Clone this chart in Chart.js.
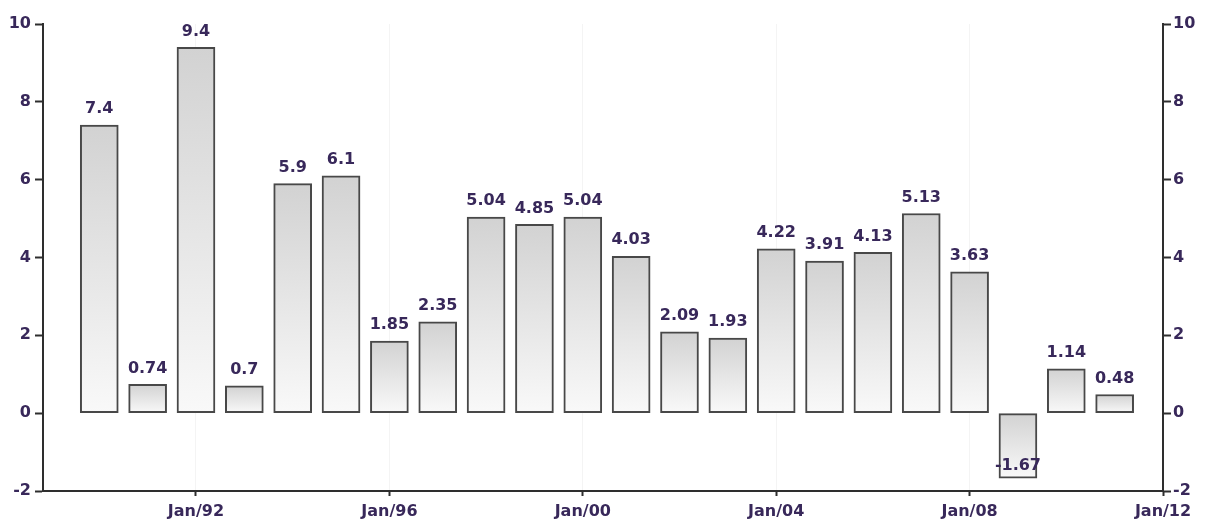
<!DOCTYPE html>
<html>
<head>
<meta charset="utf-8">
<script src="https://cdn.jsdelivr.net/npm/chart.js@4/dist/chart.umd.min.js"></script>
<style>
  html, body { margin: 0; padding: 0; background: #fff; }
  #wrap { width: 1206px; height: 526px; }
</style>
</head>
<body>
<div id="wrap"><canvas id="chart"></canvas></div>
<script>
// yearly values, bars centred on January of each year
const years = [1990, 1991, 1992, 1993, 1994, 1995, 1996, 1997, 1998, 1999, 2000,
               2001, 2002, 2003, 2004, 2005, 2006, 2007, 2008, 2009, 2010, 2011];
const values = [7.4, 0.74, 9.4, 0.7, 5.9, 6.1, 1.85, 2.35, 5.04, 4.85, 5.04,
                4.03, 2.09, 1.93, 4.22, 3.91, 4.13, 5.13, 3.63, -1.67, 1.14, 0.48];
const xTicks = [1992, 1996, 2000, 2004, 2008, 2012];
const yTicks = [-2, 0, 2, 4, 6, 8, 10];

const textColor = '#38285a';
const axisColor = '#2e2e2e';
const font = { family: 'DejaVu Sans', size: 16, weight: 'bold' };

function barFill(context) {
    const chart = context.chart;
    if (!chart.chartArea || !chart.scales.y) return '#dddddd';
    const v = values[context.dataIndex];
    const top = chart.scales.y.getPixelForValue(Math.max(v, 0));
    const bottom = chart.scales.y.getPixelForValue(Math.min(v, 0));
    const g = chart.ctx.createLinearGradient(0, top, 0, bottom);
    g.addColorStop(0, '#d2d2d2');
    g.addColorStop(1, '#f9f9f9');
    return g;
}

// value labels above bars (inside at the bottom for negatives)
const valueLabels = {
    id: 'valueLabels',
    afterDatasetsDraw(chart) {
        const ctx = chart.ctx;
        const meta = chart.getDatasetMeta(0);
        ctx.save();
        ctx.font = 'bold 16px "DejaVu Sans"';
        ctx.fillStyle = textColor;
        ctx.textAlign = 'center';
        ctx.textBaseline = 'bottom';
        meta.data.forEach((bar, i) => {
            const v = values[i];
            const y = v >= 0 ? bar.y - 8 : bar.y - 4;
            ctx.fillText(String(v), bar.x, y);
        });
        ctx.restore();
    }
};

function fixTicks(list) {
    return function (scale) {
        scale.ticks = list.map(v => ({ value: v }));
    };
}

new Chart(document.getElementById('chart').getContext('2d'), {
    type: 'bar',
    data: {
        datasets: [{
            data: years.map((y, i) => ({ x: y, y: values[i] })),
            backgroundColor: barFill,
            borderColor: '#484848',
            borderWidth: 2,
            borderSkipped: false,
            barThickness: 38
        }]
    },
    options: {
        responsive: true,
        maintainAspectRatio: false,
        animation: false,
        layout: { padding: { top: 24, left: 0, right: 0, bottom: 0 } },
        plugins: {
            legend: { display: false },
            tooltip: { enabled: false }
        },
        scales: {
            x: {
                type: 'linear',
                offset: false,
                min: 1988.836,
                max: 2012,
                afterBuildTicks: fixTicks(xTicks),
                afterFit(scale) { scale.height = 35; },
                border: { color: axisColor, width: 2 },
                grid: { offset: false, drawOnChartArea: true, color: '#f4f4f4', drawTicks: true, tickLength: 5, tickColor: axisColor, tickWidth: 2 },
                ticks: {
                    color: textColor,
                    font: font,
                    padding: 6,
                    maxRotation: 0,
                    callback: v => 'Jan/' + String(v).slice(2)
                }
            },
            y: {
                position: 'left',
                min: -2,
                max: 10,
                afterBuildTicks: fixTicks(yTicks),
                afterFit(scale) { scale.width = 43; },
                border: { color: axisColor, width: 2 },
                grid: { drawOnChartArea: false, drawTicks: true, tickLength: 8, tickColor: axisColor, tickWidth: 2 },
                ticks: { color: textColor, font: font, padding: 4 }
            },
            y2: {
                position: 'right',
                min: -2,
                max: 10,
                afterBuildTicks: fixTicks(yTicks),
                afterFit(scale) { scale.width = 43; },
                border: { color: axisColor, width: 2 },
                grid: { drawOnChartArea: false, drawTicks: true, tickLength: 8, tickColor: axisColor, tickWidth: 2 },
                ticks: { color: textColor, font: font, padding: 2 }
            }
        }
    },
    plugins: [valueLabels]
});
</script>
</body>
</html>
